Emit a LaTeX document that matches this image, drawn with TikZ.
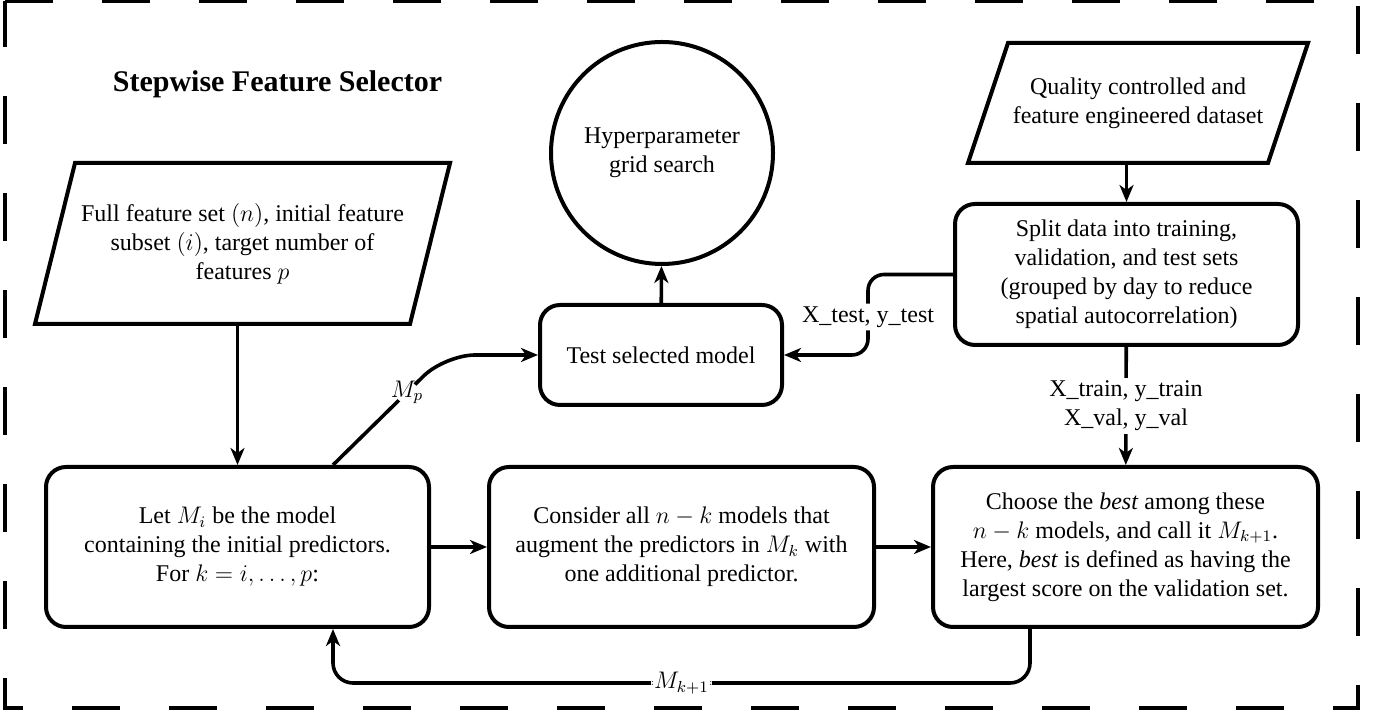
\documentclass[tikz,border=0pt]{standalone}
\usepackage[no-math]{fontspec}
\setmainfont{Liberation Serif}
\usetikzlibrary{arrows.meta}

\tikzset{
  box/.style={draw, rounded corners=10pt, line width=2pt, align=center},
  data/.style={outer sep=0pt, align=center},
  arrow/.style={-{Stealth[length=8.5pt,width=7pt,inset=2.5pt]}, line width=1.8pt},
  lbl/.style={fill=white, inner sep=1.5pt, align=center}
}

\begin{document}
\begin{tikzpicture}[x=0.5pt, y=0.5pt, font=\fontsize{12}{14.5}\selectfont]
\useasboundingbox (0,0) rectangle (1379,715);

%Draw Outer Frame
\draw[line width=2pt, dash pattern=on 24pt off 24.5pt] (5,714) -- (1358,714) -- (1358,7) -- (5,7) -- cycle;
\node[anchor=base, font=\fontsize{15}{18}\selectfont\bfseries] (title) at (277.5,623) {Stepwise Feature Selector};

%Draw Inputs
\node[data, minimum width=187.5pt, minimum height=80.5pt] (full) at (242.5,471.5)
  {Full feature set $(n)$, initial feature\\ subset $(i)$, target number of\\ features $p$};
\draw[line width=2pt] ([xshift=10pt]full.north west) -- ([xshift=10pt]full.north east)
  -- ([xshift=-10pt]full.south east) -- ([xshift=-10pt]full.south west) -- cycle;
\node[data, minimum width=150pt, minimum height=60pt] (quality) at (1138,612)
  {Quality controlled and\\ feature engineered dataset};
\draw[line width=2pt] ([xshift=10pt]quality.north west) -- ([xshift=10pt]quality.north east)
  -- ([xshift=-10pt]quality.south east) -- ([xshift=-10pt]quality.south west) -- cycle;

%Draw Upper Boxes
\node[draw, circle, line width=2pt, minimum size=111pt, align=center] (hyper) at (662,562) {Hyperparameter\\ grid search};
\node[box, minimum width=121pt, minimum height=50pt] (test) at (661,360) {Test selected model};
\node[box, minimum width=171.5pt, minimum height=70.5pt] (split) at (1126.5,440.5)
  {Split data into training,\\ validation, and test sets\\ (grouped by day to reduce\\ spatial autocorrelation)};

%Draw Lower Boxes
\node[box, minimum width=191.5pt, minimum height=80pt] (let) at (237.5,168)
  {Let $M_i$ be the model\\ containing the initial predictors.\\ For $k=i,\dots,p$:};
\node[box, minimum width=192.5pt, minimum height=80pt] (consider) at (681.5,168)
  {Consider all $n-k$ models that\\ augment the predictors in $M_k$ with\\ one additional predictor.};
\node[box, minimum width=192.5pt, minimum height=80pt] (choose) at (1125.5,168)
  {Choose the \emph{best} among these\\ $n-k$ models, and call it $M_{k+1}$.\\ Here, \emph{best} is defined as having the\\ largest score on the validation set.};

%Bend Points
\coordinate (loop) at (333,32);
\coordinate (fb) at (1030,32);
\coordinate (mpbend) at (445,360);
\coordinate (xt) at (868,398);

%Draw Connectors
\draw[arrow] (full.south -| let) -- (let);
\draw[arrow] (quality.south -| split) -- (split);
\draw[arrow] (split) -- node[lbl] {X\_train, y\_train\\ X\_val, y\_val} (choose);
\draw[arrow, rounded corners=8pt] (split.west) -| (xt) node[lbl] {X\_test, y\_test} |- (test.east);
\draw[arrow] (test) -- (hyper);
\draw[arrow] (let) -- (consider);
\draw[arrow] (consider) -- (choose);
\draw[arrow, rounded corners=15pt] (let.north -| loop) -- node[lbl, pos=0.66] {$M_p$} (mpbend) -- (test.west);
\draw[arrow, rounded corners=10pt] (choose.south -| fb) |- node[lbl, pos=0.75] {$M_{k+1}$} (loop) -- (let.south -| loop);

\end{tikzpicture}
\end{document}
